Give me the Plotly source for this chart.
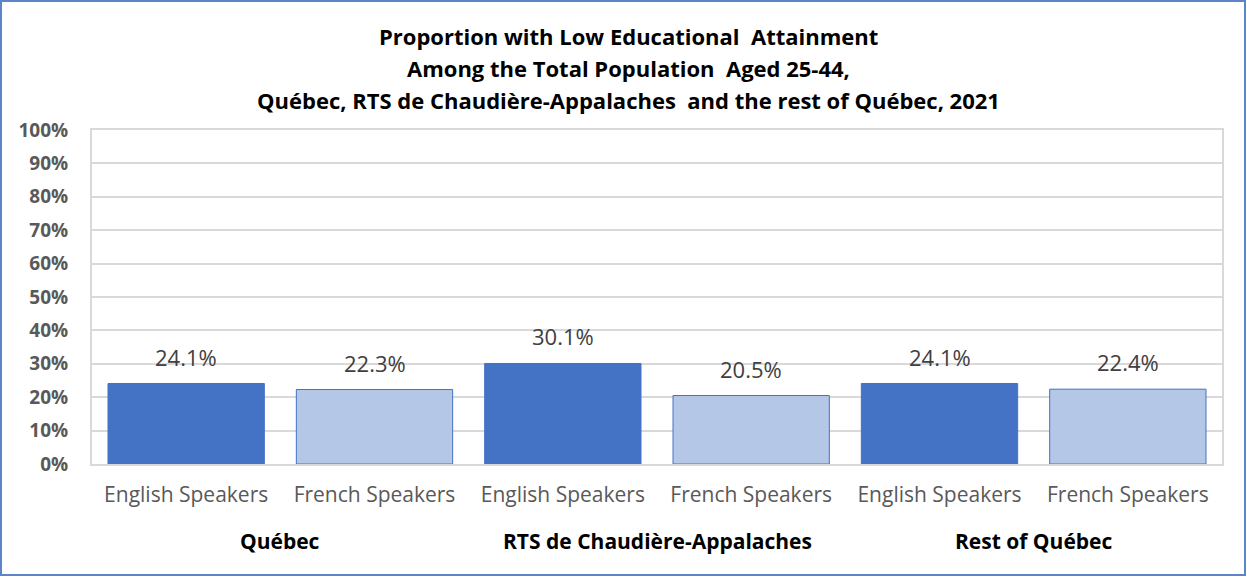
import plotly.graph_objects as go

# Data
groups = ["Québec", "RTS de Chaudière-Appalaches", "Rest of Québec"]
speakers = ["English Speakers", "French Speakers"]
values = [24.1, 22.3, 30.1, 20.5, 24.1, 22.4]
y_ticks = [0, 10, 20, 30, 40, 50, 60, 70, 80, 90, 100]
y_tick_labels = [f"{t}%" for t in y_ticks]

title_lines = [
    "Proportion with Low Educational  Attainment",
    "Among the Total Population  Aged 25-44,",
    "Québec, RTS de Chaudière-Appalaches  and the rest of Québec, 2021",
]

W, H = 1247, 577
ML, MR, MT, MB = 92, 25, 130, 113
PW, PH = W - ML - MR, H - MT - MB

FONT = "'Open Sans', Lato, sans-serif"
DARK = "#4472C4"
LIGHT = "#B4C7E7"

x_pos = list(range(len(values)))
colors = [DARK if i % 2 == 0 else LIGHT for i in x_pos]
tick_text = [speakers[i % 2] for i in x_pos]

fig = go.Figure()
fig.add_trace(go.Bar(
    x=x_pos, y=values,
    marker=dict(color=colors, line=dict(color=DARK, width=1)),
    width=0.83,
    hoverinfo="skip",
))

annotations = []
# data labels
for xi, v in zip(x_pos, values):
    annotations.append(dict(
        x=xi, xref="x", y=v, yref="y", yshift=27,
        text=f"{v:.1f}%", showarrow=False,
        font=dict(family=FONT, size=22, color="#404040"),
        xanchor="center", yanchor="middle",
    ))
# group labels
for gi, g in enumerate(groups):
    annotations.append(dict(
        x=gi * 2 + 0.5, xref="x", y=-(541 - 464) / PH, yref="paper",
        text=f"<b>{g}</b>", showarrow=False,
        font=dict(family=FONT, size=21, color="#000000"),
        xanchor="center", yanchor="middle",
    ))
# title
title_y = [36, 68, 100]
for line, ty in zip(title_lines, title_y):
    annotations.append(dict(
        x=(628 - ML) / PW, xref="paper", y=1 + (MT - ty) / PH, yref="paper",
        text=f"<b>{line}</b>", showarrow=False,
        font=dict(family=FONT, size=22, color="#000000"),
        xanchor="center", yanchor="middle",
    ))

fig.update_layout(
    width=W, height=H,
    margin=dict(l=ML, r=MR, t=MT, b=MB),
    paper_bgcolor="white", plot_bgcolor="white",
    showlegend=False,
    annotations=annotations,
    shapes=[dict(
        type="rect", xref="paper", yref="paper",
        x0=-(ML - 1) / PW, x1=1 + (MR - 2) / PW,
        y0=-(MB - 2) / PH, y1=1 + (MT - 1) / PH,
        line=dict(color="#5B84C9", width=2), fillcolor="rgba(0,0,0,0)",
        layer="below",
    )],
    bargap=0.17,
)
fig.update_xaxes(
    range=[-0.5, len(values) - 0.5],
    tickvals=x_pos, ticktext=tick_text,
    tickfont=dict(family=FONT, size=21, color="#595959"),
    showline=True, linecolor="#D9D9D9", linewidth=2, mirror=True,
    showgrid=False, ticks="", ticklabelstandoff=11,
)
fig.update_yaxes(
    range=[0, 100], tickvals=y_ticks, ticktext=y_tick_labels,
    tickfont=dict(family=FONT, size=19, color="#595959", weight="bold"),
    showline=True, linecolor="#D9D9D9", linewidth=2, mirror=True,
    showgrid=True, gridcolor="#D9D9D9", gridwidth=2,
    zeroline=False, ticks="", ticklabelstandoff=18,
)

fig.write_html(
    "out.html",
    config={"displayModeBar": False},
    post_script="document.body.style.margin='0';document.body.style.padding='0';",
)
